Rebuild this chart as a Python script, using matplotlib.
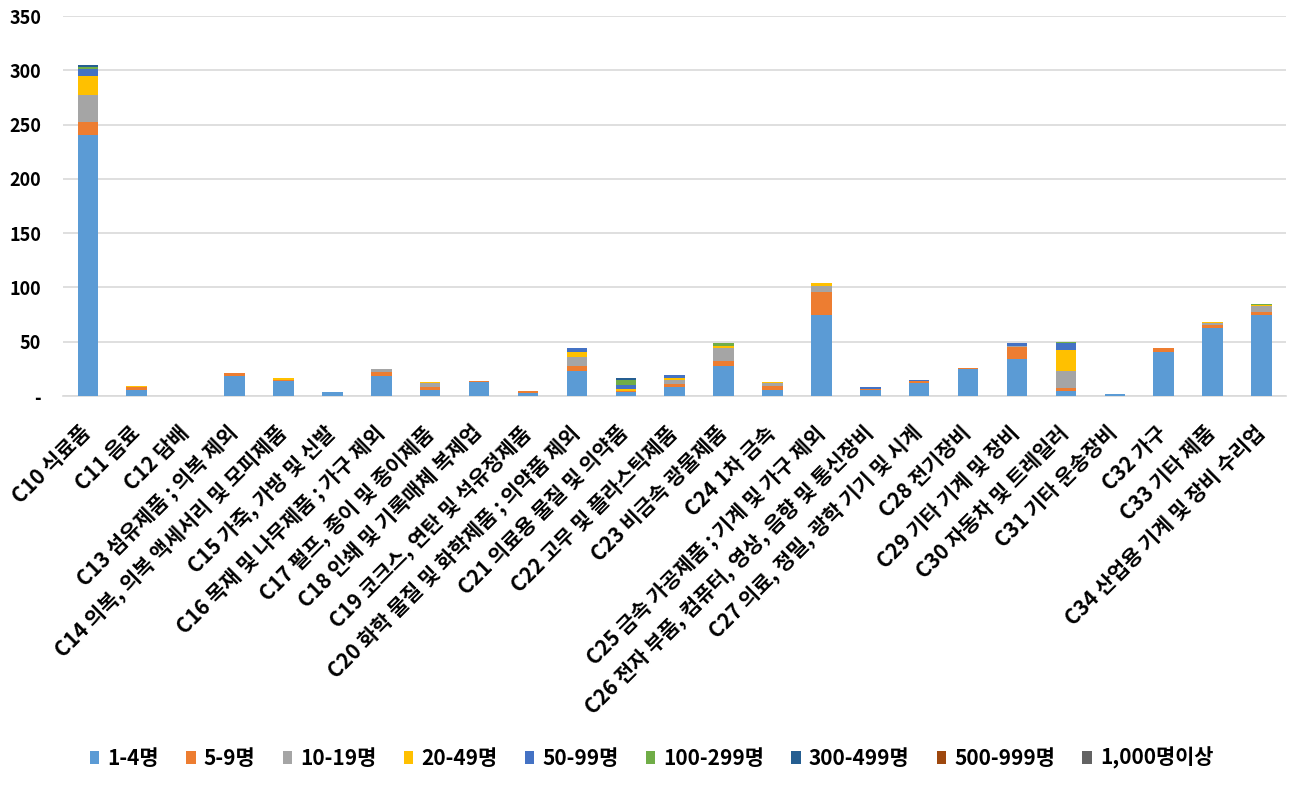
import matplotlib
matplotlib.use("Agg")
import matplotlib.pyplot as plt
import matplotlib.transforms as mtransforms
import numpy as np
from matplotlib.ticker import FuncFormatter

plt.rcParams['font.family'] = ['Noto Sans CJK KR', 'DejaVu Sans']

categories = ["C10 식료품", "C11 음료", "C12 담배", "C13 섬유제품 ; 의복 제외",
              "C14 의복, 의복 액세서리 및 모피제품", "C15 가죽, 가방 및 신발",
              "C16 목재 및 나무제품 ; 가구 제외", "C17 펄프, 종이 및 종이제품",
              "C18 인쇄 및 기록매체 복제업", "C19 코크스, 연탄 및 석유정제품",
              "C20 화학 물질 및 화학제품 ; 의약품 제외", "C21 의료용 물질 및 의약품",
              "C22 고무 및 플라스틱제품", "C23 비금속 광물제품", "C24 1차 금속",
              "C25 금속 가공제품 ; 기계 및 가구 제외",
              "C26 전자 부품, 컴퓨터, 영상, 음향 및 통신장비",
              "C27 의료, 정밀, 광학 기기 및 시계", "C28 전기장비", "C29 기타 기계 및 장비",
              "C30 자동차 및 트레일러", "C31 기타 운송장비", "C32 가구", "C33 기타 제품",
              "C34 산업용 기계 및 장비 수리업"]

series_names = ["1-4명", "5-9명", "10-19명", "20-49명", "50-99명", "100-299명",
                "300-499명", "500-999명", "1,000명이상"]

s_1_4 = [240, 6, 0, 18, 14, 4, 18, 6, 13, 2.5, 23, 4, 8, 28, 6, 75, 6, 12, 24.5, 34, 5, 2, 41, 63, 75]
s_5_9 = [12, 2, 0, 3, 0.5, 0, 4.5, 2, 1, 2, 5, 0.5, 3, 4, 3, 21, 0.5, 2, 1, 11, 2, 0, 3, 2.5, 2]
s_10_19 = [25, 0, 0, 0, 0, 0, 2, 4, 0, 0, 8, 0.5, 4, 12, 3, 5, 0, 0, 0, 1, 16.5, 0, 0, 2, 6]
s_20_49 = [18, 1, 0, 0, 2.5, 0, 0, 1, 0, 0, 5, 1.5, 2, 2, 1, 3, 0, 0, 0, 0.5, 18.5, 0, 0, 1, 1]
s_50_99 = [6, 0, 0, 0, 0, 0, 0, 0, 0, 0, 3, 3.7, 2, 0, 0, 0, 2, 1, 0, 2, 6.5, 0, 0, 0, 0]
s_100_299 = [2, 0, 0, 0, 0, 0, 0, 0, 0, 0, 0, 5, 0, 2.8, 0, 0, 0, 0, 0, 0, 1, 0, 0, 0, 1]
s_300_499 = [2, 0, 0, 0, 0, 0, 0, 0, 0, 0, 0, 1, 0, 0, 0, 0, 0, 0, 0, 0, 0, 0, 0, 0, 0]
s_500_999 = [0] * 25
s_1000 = [0] * 25

series = [s_1_4, s_5_9, s_10_19, s_20_49, s_50_99, s_100_299, s_300_499, s_500_999, s_1000]
colors = ["#5B9BD5", "#ED7D31", "#A5A5A5", "#FFC000", "#4472C4", "#70AD47",
          "#255E91", "#9E480E", "#636363"]

fig = plt.figure(figsize=(12.93, 7.85), dpi=100)
ax = fig.add_axes([0.049, 0.4955, 0.9456, 0.4841])

x = np.arange(len(categories))
bottom = np.zeros(len(categories))
for vals, name, c in zip(series, series_names, colors):
    v = np.array(vals, dtype=float)
    ax.bar(x, v, 0.42, bottom=bottom, color=c, label=name, zorder=3)
    bottom += v

ax.set_xlim(-0.5, len(categories) - 0.5)
ax.set_ylim(0, 350)
ax.set_yticks(np.arange(0, 351, 50))
ax.yaxis.set_major_formatter(FuncFormatter(lambda v, p: "-" if v == 0 else f"{int(v)}"))
ax.grid(axis='y', color='#D9D9D9', linewidth=1.2, zorder=0)
for s in ['top', 'right', 'left']:
    ax.spines[s].set_visible(False)
ax.spines['bottom'].set_color('#D9D9D9')
ax.spines['bottom'].set_linewidth(1.2)
ax.tick_params(axis='both', length=0)
ax.tick_params(axis='y', pad=16, labelsize=13)
ax.set_xticks(x)
ax.set_xticklabels(categories, rotation=45, ha='right', rotation_mode='anchor',
                   fontsize=15, fontweight='bold')
ax.tick_params(axis='x', pad=0)
offset = mtransforms.ScaledTranslation(-8 / 100, -26 / 100, fig.dpi_scale_trans)
for t in ax.get_xticklabels():
    t.set_transform(t.get_transform() + offset)
for t in ax.get_yticklabels():
    t.set_fontweight('bold')

handles, labels = ax.get_legend_handles_labels()
leg = fig.legend(handles, labels, loc='center', bbox_to_anchor=(0.504, 0.034), ncol=9,
                 frameon=False, prop={'size': 15, 'weight': 'bold'},
                 handlelength=0.45, handleheight=0.6, handletextpad=0.4, columnspacing=1.3)

fig.savefig("out.png", dpi=100)
